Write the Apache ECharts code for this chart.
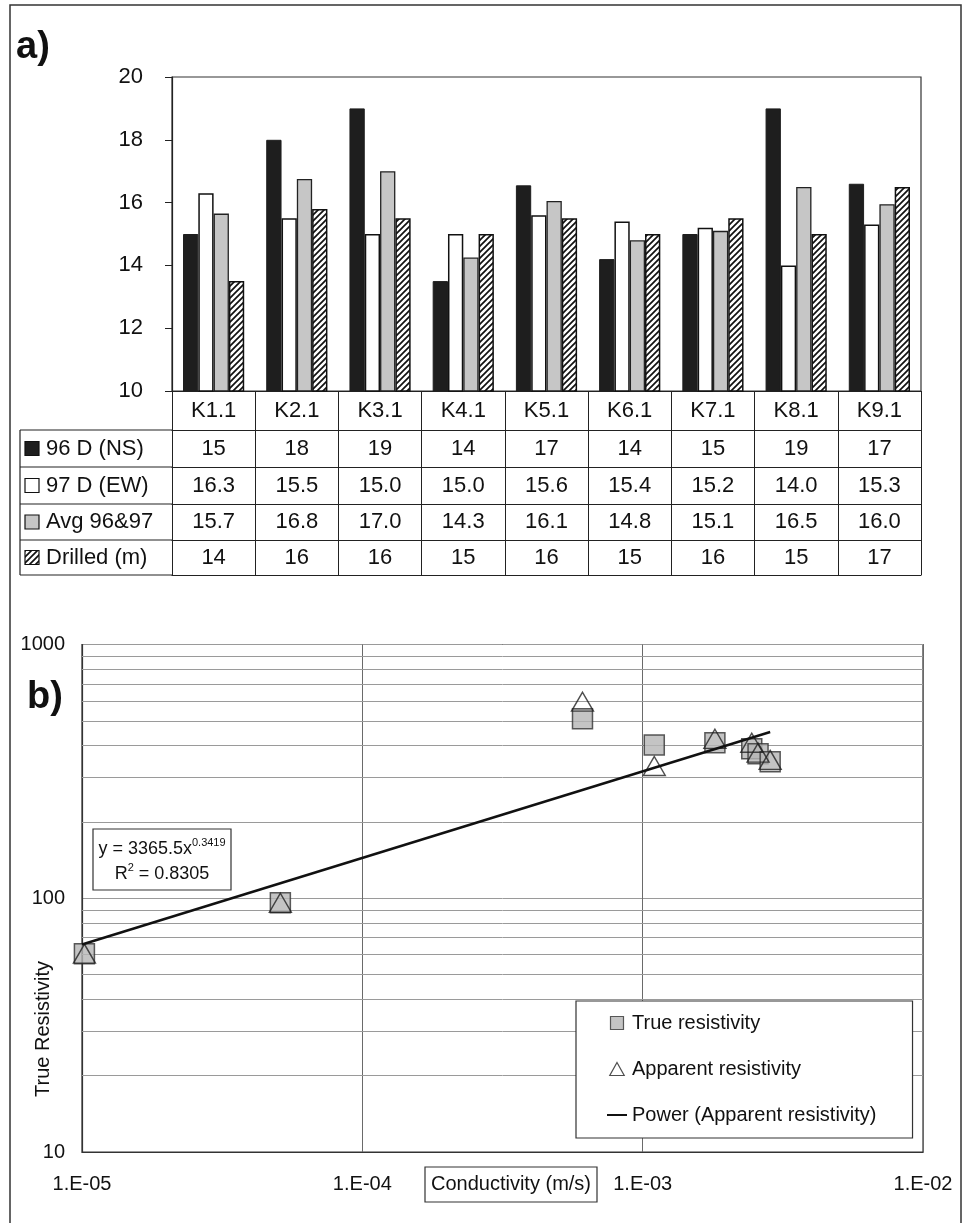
<!DOCTYPE html>
<html><head><meta charset="utf-8">
<script src="https://cdn.jsdelivr.net/npm/echarts@6/dist/echarts.min.js"></script>
<style>html,body{margin:0;padding:0;background:#fff;}#c{width:969px;height:1223px;}</style>
</head><body><div id="c"></div>
<script>
// ---------- Panel a data ----------
const categories = ['K1.1','K2.1','K3.1','K4.1','K5.1','K6.1','K7.1','K8.1','K9.1'];
const seriesNames = ['96 D (NS)','97 D (EW)','Avg 96&97','Drilled (m)'];
const d96 = [15.0, 18.0, 19.0, 13.5, 16.55, 14.2, 15.0, 19.0, 16.6];
const d97 = [16.3, 15.5, 15.0, 15.0, 15.6, 15.4, 15.2, 14.0, 15.3];
const dAvg = [15.65, 16.75, 17.0, 14.25, 16.05, 14.8, 15.1, 16.5, 15.95];
const dDrilled = [13.5, 15.8, 15.5, 15.0, 15.5, 15.0, 15.5, 15.0, 16.5];
const row96 = ['15','18','19','14','17','14','15','19','17'];
const row97 = ['16.3','15.5','15.0','15.0','15.6','15.4','15.2','14.0','15.3'];
const rowAvg = ['15.7','16.8','17.0','14.3','16.1','14.8','15.1','16.5','16.0'];
const rowDrilled = ['14','16','16','15','16','15','16','15','17'];
const yMinA = 10, yMaxA = 20, yStepA = 2;

// ---------- Panel b data ----------
const condX   = [1.02e-5, 5.1e-5, 6.1e-4, 1.10e-3, 1.81e-3, 2.45e-3, 2.58e-3, 2.85e-3];
const trueRes = [60.5, 96, 510, 402, 410, 388, 371, 345];
const appRes  = [60.5, 96, 595, 332, 425, 410, 375, 351];
const trendX  = [1.0e-5, 2.85e-3];
const trendY  = [65.7, 452];
const minorGridY = [20,30,40,50,60,70,80,90,200,300,400,500,600,700,800,900];
const xMinB = 1e-5, xMaxB = 1e-2, yMinB = 10, yMaxB = 1000;
const eqLine1 = 'y = 3365.5x';
const eqExp = '0.3419';
const eqLine2 = ' = 0.8305';

// ---------- layout ----------
const FONT = '"Liberation Sans", Arial, Helvetica, sans-serif';
const GA = {left: 172, top: 77, width: 749, height: 314};
const GB = {left: 82, top: 644.5, width: 841, height: 507.5};
const axisA_Y = GA.top + GA.height;
const rowTops = [0, 39, 76, 113, 149, 184];

function hatchCanvas() {
  const c = document.createElement('canvas');
  c.width = 6; c.height = 6;
  const g = c.getContext('2d');
  g.fillStyle = '#fff'; g.fillRect(0, 0, 6, 6);
  g.strokeStyle = '#111'; g.lineWidth = 1.7;
  g.beginPath();
  g.moveTo(-1, 7); g.lineTo(7, -1);
  g.moveTo(-4, 4); g.lineTo(4, -4);
  g.moveTo(2, 10); g.lineTo(10, 2);
  g.stroke();
  return c;
}
const hatch = {image: hatchCanvas(), repeat: 'repeat'};

const barStyles = [
  {color: '#1e1e1e', borderColor: '#1e1e1e', borderWidth: 1},
  {color: '#ffffff', borderColor: '#111', borderWidth: 1.5},
  {color: '#c6c6c6', borderColor: '#222', borderWidth: 1.3},
  {color: hatch, borderColor: '#111', borderWidth: 1.5}
];
const barData = [d96, d97, dAvg, dDrilled];
const rowData = [row96, row97, rowAvg, rowDrilled];

const xAxes = [];
xAxes.push({
  type: 'category', gridIndex: 0, position: 'bottom', data: categories,
  axisLine: {onZero: false, lineStyle: {color: '#222', width: 1.2}},
  axisTick: {show: true, interval: 0, length: rowTops[1], lineStyle: {color: '#222'}},
  axisLabel: {interval: 0, fontSize: 22, fontFamily: FONT, color: '#111', margin: (rowTops[1] - 22) / 2},
  splitLine: {show: false}
});
for (let i = 0; i < 4; i++) {
  const h = rowTops[i + 2] - rowTops[i + 1];
  xAxes.push({
    type: 'category', gridIndex: 0, position: 'bottom', offset: rowTops[i + 1], data: rowData[i],
    axisLine: {onZero: false, lineStyle: {color: '#222', width: 1.2}},
    axisTick: {show: true, interval: 0, length: h, lineStyle: {color: '#222'}},
    axisLabel: {interval: 0, fontSize: 22, fontFamily: FONT, color: '#111', margin: (h - 22) / 2},
    splitLine: {show: false}
  });
}
xAxes.push({
  type: 'category', gridIndex: 0, position: 'bottom', offset: rowTops[5], data: categories,
  axisLine: {onZero: false, lineStyle: {color: '#222', width: 1.2}},
  axisTick: {show: false}, axisLabel: {show: false}, splitLine: {show: false}
});
const xIdxB = xAxes.length;
xAxes.push({
  type: 'log', logBase: 10, gridIndex: 1, min: xMinB, max: xMaxB, position: 'bottom',
  axisLine: {onZero: false, lineStyle: {color: '#333', width: 1.2}},
  axisTick: {show: false},
  axisLabel: {fontSize: 20, fontFamily: FONT, color: '#111', margin: 22, showMinLabel: true, showMaxLabel: true,
    formatter: v => '1.E-' + String(Math.round(-Math.log10(v))).padStart(2, '0')},
  splitLine: {show: true, lineStyle: {color: '#6a6a6a', width: 1}}
});

// table left column graphics
const graphics = [];
graphics.push({type: 'rect', shape: {x: 10, y: 5, width: 951, height: 1230},
  style: {fill: 'none', stroke: '#333', lineWidth: 1.5}, z: 100});
graphics.push({type: 'text', x: 16, y: 48, style: {text: 'a)', fontSize: 38, fontWeight: 'bold', fontFamily: FONT, fill: '#111', align: 'left', verticalAlign: 'middle'}});
graphics.push({type: 'text', x: 27, y: 698, style: {text: 'b)', fontSize: 38, fontWeight: 'bold', fontFamily: FONT, fill: '#111', align: 'left', verticalAlign: 'middle'}});
for (let r = 1; r <= 5; r++) {
  const y = axisA_Y + rowTops[r];
  graphics.push({type: 'line', shape: {x1: 20, y1: y, x2: GA.left, y2: y}, style: {stroke: '#222', lineWidth: 1.2}});
}
graphics.push({type: 'line', shape: {x1: 20, y1: axisA_Y + rowTops[1], x2: 20, y2: axisA_Y + rowTops[5]}, style: {stroke: '#222', lineWidth: 1.2}});
for (let i = 0; i < 4; i++) {
  const cy = axisA_Y + (rowTops[i + 1] + rowTops[i + 2]) / 2;
  graphics.push({type: 'rect', shape: {x: 25, y: cy - 7, width: 14, height: 14},
    style: {fill: barStyles[i].color, stroke: '#111', lineWidth: 1.2}});
  graphics.push({type: 'text', x: 46, y: cy, style: {text: seriesNames[i], fontSize: 22, fontFamily: FONT, fill: '#111', align: 'left', verticalAlign: 'middle'}});
}
// equation box
graphics.push({type: 'rect', shape: {x: 93, y: 829, width: 138, height: 61}, style: {fill: '#fff', stroke: '#333', lineWidth: 1.2}, z: 50});
graphics.push({type: 'text', x: 162, y: 849, z: 51, style: {text: eqLine1 + '{s|' + eqExp + '}', align: 'center', verticalAlign: 'middle',
  fontSize: 18, fontFamily: FONT, fill: '#111', lineHeight: 24,
  rich: {s: {fontSize: 11, fontFamily: FONT, fill: '#111', lineHeight: 8, verticalAlign: 'top'}}}});
graphics.push({type: 'text', x: 162, y: 874, z: 51, style: {text: 'R{s|2}' + eqLine2, align: 'center', verticalAlign: 'middle',
  fontSize: 18, fontFamily: FONT, fill: '#111', lineHeight: 24,
  rich: {s: {fontSize: 11, fontFamily: FONT, fill: '#111', lineHeight: 8, verticalAlign: 'top'}}}});
// axis titles panel b
graphics.push({type: 'text', x: 43.5, y: 1029, rotation: Math.PI / 2, style: {text: 'True Resistivity', fontSize: 20, fontFamily: FONT, fill: '#111', align: 'center', verticalAlign: 'middle'}});
graphics.push({type: 'rect', shape: {x: 425, y: 1167, width: 172, height: 35}, style: {fill: '#fff', stroke: '#333', lineWidth: 1.2}});
graphics.push({type: 'text', x: 511, y: 1184.5, style: {text: 'Conductivity (m/s)', fontSize: 20, fontFamily: FONT, fill: '#111', align: 'center', verticalAlign: 'middle'}});

const series = [];
for (let i = 0; i < 4; i++) {
  series.push({type: 'bar', name: seriesNames[i], xAxisIndex: 0, yAxisIndex: 0, data: barData[i],
    barWidth: 15.3, barGap: '0%', itemStyle: barStyles[i], emphasis: {disabled: true}});
}
series.push({type: 'scatter', name: 'True resistivity', xAxisIndex: xIdxB, yAxisIndex: 1,
  data: condX.map((x, i) => [x, trueRes[i]]), symbol: 'rect', symbolSize: 20, z: 3,
  itemStyle: {color: '#b5b5b5', borderColor: '#333', borderWidth: 1.5},
  markLine: {silent: true, z: 1, symbol: ['none', 'none'], label: {show: false}, animation: false,
    lineStyle: {color: '#9a9a9a', width: 1, type: 'solid'}, emphasis: {disabled: true},
    data: minorGridY.map(v => ({yAxis: v}))}});
series.push({type: 'scatter', name: 'Apparent resistivity', xAxisIndex: xIdxB, yAxisIndex: 1,
  data: condX.map((x, i) => [x, appRes[i]]), symbol: 'triangle', symbolSize: [22, 19], z: 4,
  itemStyle: {color: 'rgba(0,0,0,0)', borderColor: '#222', borderWidth: 1.4}});
series.push({type: 'line', name: 'Power (Apparent resistivity)', xAxisIndex: xIdxB, yAxisIndex: 1,
  data: trendX.map((x, i) => [x, trendY[i]]), symbol: 'none', showSymbol: false, z: 5,
  itemStyle: {color: '#111'}, lineStyle: {color: '#111', width: 2.5}});

const chart = echarts.init(document.getElementById('c'), null, {renderer: 'canvas'});
chart.setOption({
  animation: false,
  backgroundColor: '#fff',
  textStyle: {fontFamily: FONT},
  grid: [
    Object.assign({show: true, borderColor: '#333', borderWidth: 1.2, backgroundColor: '#fff', containLabel: false, outerBoundsMode: 'none'}, GA),
    Object.assign({show: true, borderColor: '#333', borderWidth: 1.2, backgroundColor: '#fff', containLabel: false, outerBoundsMode: 'none'}, GB)
  ],
  xAxis: xAxes,
  yAxis: [
    {type: 'value', gridIndex: 0, min: yMinA, max: yMaxA, interval: yStepA,
      axisLine: {show: true, lineStyle: {color: '#222', width: 1.2}},
      axisTick: {show: true, length: 7, lineStyle: {color: '#222'}},
      axisLabel: {fontSize: 22, fontFamily: FONT, color: '#111', margin: 29},
      splitLine: {show: false}},
    {type: 'log', logBase: 10, gridIndex: 1, min: yMinB, max: yMaxB,
      axisLine: {show: true, lineStyle: {color: '#333', width: 1.2}},
      axisTick: {show: false},
      axisLabel: {fontSize: 20, fontFamily: FONT, color: '#111', margin: 17, formatter: v => String(Math.round(v))},
      splitLine: {show: true, lineStyle: {color: '#9a9a9a', width: 1}}}
  ],
  legend: {
    orient: 'vertical', left: 576, top: 1001, padding: [12, 36, 13, 31],
    borderColor: '#333', borderWidth: 1.2, backgroundColor: '#fff',
    itemWidth: 20, itemHeight: 13, itemGap: 26, selectedMode: false,
    textStyle: {fontSize: 20, fontFamily: FONT, color: '#111'},
    data: [
      {name: 'True resistivity', icon: 'path://M0,0H10V10H0Z', itemStyle: {borderWidth: 1.2}},
      {name: 'Apparent resistivity', icon: 'path://M5,0L10,9L0,9Z', itemStyle: {borderWidth: 1.2}},
      {name: 'Power (Apparent resistivity)', icon: 'path://M0,0H20V2H0Z', itemStyle: {color: '#111', borderWidth: 0}}
    ]
  },
  graphic: graphics,
  series: series
});
</script>
</body></html>
